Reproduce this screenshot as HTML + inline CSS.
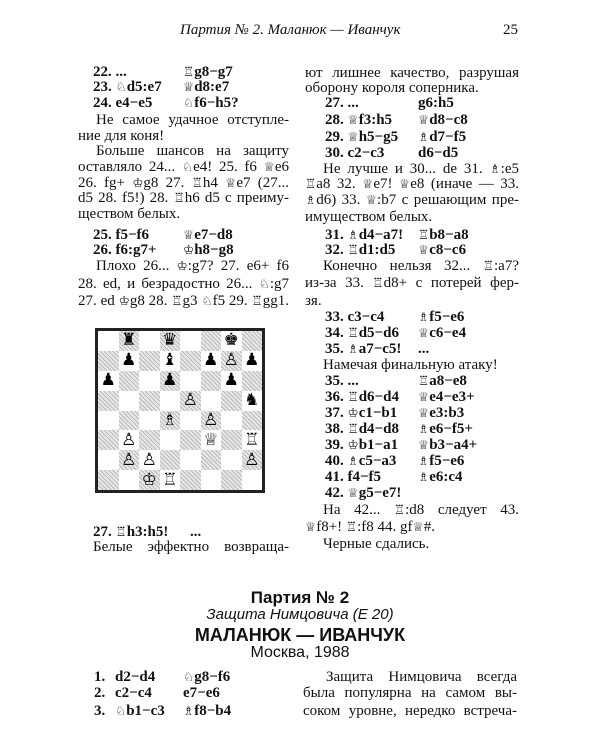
<!DOCTYPE html>
<html><head><meta charset="utf-8">
<style>
body{margin:0;background:#fff;}
#p{position:relative;width:600px;height:750px;overflow:hidden;background:#fff;color:#111;font-family:"Liberation Serif",serif;font-size:15px;}
.l{position:absolute;height:18px;line-height:18px;white-space:nowrap;}
.j{text-align:justify;text-align-last:justify;white-space:normal;overflow:hidden;}
.b{font-weight:bold;}
.f{font-family:"DejaVu Sans",sans-serif;font-weight:normal;font-size:12.5px;}
.s{font-family:"Liberation Sans",sans-serif;text-align:center;left:0;width:600px;}
#board{position:absolute;left:95px;top:328px;width:164px;height:159px;border:3px solid #222;display:grid;grid-template-columns:repeat(8,1fr);grid-template-rows:repeat(8,1fr);}
#board div{display:flex;align-items:center;justify-content:center;font-family:"DejaVu Sans",sans-serif;font-size:17px;line-height:1;color:#000;}
#board .d{background:repeating-linear-gradient(45deg,#bbb 0 1px,#e8e8e8 1px 3px);}
</style></head><body><div id="p">

<div class="l" style="left:180px;top:21px;font-style:italic;font-size:15px;">Партия № 2. Маланюк — Иванчук</div>
<div class="l" style="left:503px;top:21px;font-size:15px;">25</div>

<!-- left column -->
<div class="l b" style="left:93px;top:63px">22. ...</div><div class="l b" style="left:183px;top:63px"><span class="f">♖</span>g8−g7</div>
<div class="l b" style="left:93px;top:78px">23. <span class="f">♘</span>d5:e7</div><div class="l b" style="left:183px;top:78px"><span class="f">♕</span>d8:e7</div>
<div class="l b" style="left:93px;top:94px">24. e4−e5</div><div class="l b" style="left:183px;top:94px"><span class="f">♘</span>f6−h5?</div>
<div class="l j" style="left:96px;width:193px;top:111px">Не самое удачное отступле-</div>
<div class="l" style="left:78px;top:127px">ние для коня!</div>
<div class="l j" style="left:96px;width:193px;top:142px">Больше шансов на защиту</div>
<div class="l j" style="left:78px;width:211px;top:158px">оставляло 24... <span class="f">♘</span>e4! 25. f6 <span class="f">♕</span>e6</div>
<div class="l j" style="left:78px;width:211px;top:174px">26. fg+ <span class="f">♔</span>g8 27. <span class="f">♖</span>h4 <span class="f">♕</span>e7 (27...</div>
<div class="l j" style="left:78px;width:211px;top:189px">d5 28. f5!) 28. <span class="f">♖</span>h6 d5 с преиму-</div>
<div class="l" style="left:78px;top:205px">ществом белых.</div>
<div class="l b" style="left:93px;top:226px">25. f5−f6</div><div class="l b" style="left:183px;top:226px"><span class="f">♕</span>e7−d8</div>
<div class="l b" style="left:93px;top:241px">26. f6:g7+</div><div class="l b" style="left:183px;top:241px"><span class="f">♔</span>h8−g8</div>
<div class="l j" style="left:96px;width:193px;top:257px">Плохо 26... <span class="f">♔</span>:g7? 27. e6+ f6</div>
<div class="l j" style="left:78px;width:211px;top:275px">28. ed, и безрадостно 26... <span class="f">♘</span>:g7</div>
<div class="l j" style="left:78px;width:211px;top:292px">27. ed <span class="f">♔</span>g8 28. <span class="f">♖</span>g3 <span class="f">♘</span>f5 29. <span class="f">♖</span>gg1.</div>

<div id="board">
<div></div><div class="d">♜</div><div></div><div class="d">♛</div><div></div><div class="d"></div><div>♚</div><div class="d"></div>
<div class="d"></div><div>♟</div><div class="d"></div><div>♝</div><div class="d"></div><div>♟</div><div class="d">♙</div><div>♟</div>
<div>♟</div><div class="d"></div><div></div><div class="d">♟</div><div></div><div class="d"></div><div>♟</div><div class="d"></div>
<div class="d"></div><div></div><div class="d"></div><div></div><div class="d">♙</div><div></div><div class="d"></div><div>♞</div>
<div></div><div class="d"></div><div></div><div class="d">♗</div><div></div><div class="d">♙</div><div></div><div class="d"></div>
<div class="d"></div><div>♙</div><div class="d"></div><div></div><div class="d"></div><div>♕</div><div class="d"></div><div>♖</div>
<div></div><div class="d">♙</div><div>♙</div><div class="d"></div><div></div><div class="d"></div><div></div><div class="d">♙</div>
<div class="d"></div><div></div><div class="d">♔</div><div>♖</div><div class="d"></div><div></div><div class="d"></div><div></div>
</div>

<div class="l b" style="left:93px;top:523px">27. <span class="f">♖</span>h3:h5!</div><div class="l b" style="left:190px;top:523px">...</div>
<div class="l j" style="left:93px;width:196px;top:538px">Белые эффектно возвраща-</div>

<!-- right column -->
<div class="l j" style="left:305px;width:214px;top:64px">ют лишнее качество, разрушая</div>
<div class="l" style="left:305px;top:79px">оборону короля соперника.</div>
<div class="l b" style="left:325px;top:94px">27. ...</div><div class="l b" style="left:418px;top:94px">g6:h5</div>
<div class="l b" style="left:325px;top:111px">28. <span class="f">♕</span>f3:h5</div><div class="l b" style="left:418px;top:111px"><span class="f">♕</span>d8−c8</div>
<div class="l b" style="left:325px;top:128px">29. <span class="f">♕</span>h5−g5</div><div class="l b" style="left:418px;top:128px"><span class="f">♗</span>d7−f5</div>
<div class="l b" style="left:325px;top:144px">30. c2−c3</div><div class="l b" style="left:418px;top:144px">d6−d5</div>
<div class="l j" style="left:323px;width:196px;top:160px">Не лучше и 30... de 31. <span class="f">♗</span>:e5</div>
<div class="l j" style="left:305px;width:214px;top:175px"><span class="f">♖</span>a8 32. <span class="f">♕</span>e7! <span class="f">♕</span>e8 (иначе — 33.</div>
<div class="l j" style="left:305px;width:214px;top:191px"><span class="f">♗</span>d6) 33. <span class="f">♕</span>:b7 с решающим пре-</div>
<div class="l" style="left:305px;top:208px">имуществом белых.</div>
<div class="l b" style="left:325px;top:226px">31. <span class="f">♗</span>d4−a7!</div><div class="l b" style="left:418px;top:226px"><span class="f">♖</span>b8−a8</div>
<div class="l b" style="left:325px;top:241px">32. <span class="f">♖</span>d1:d5</div><div class="l b" style="left:418px;top:241px"><span class="f">♕</span>c8−c6</div>
<div class="l j" style="left:323px;width:196px;top:257px">Конечно нельзя 32... <span class="f">♖</span>:a7?</div>
<div class="l j" style="left:305px;width:214px;top:274px">из-за 33. <span class="f">♖</span>d8+ с потерей фер-</div>
<div class="l" style="left:305px;top:292px">зя.</div>
<div class="l b" style="left:325px;top:308px">33. c3−c4</div><div class="l b" style="left:418px;top:308px"><span class="f">♗</span>f5−e6</div>
<div class="l b" style="left:325px;top:324px">34. <span class="f">♖</span>d5−d6</div><div class="l b" style="left:418px;top:324px"><span class="f">♕</span>c6−e4</div>
<div class="l b" style="left:325px;top:340px">35. <span class="f">♗</span>a7−c5!</div><div class="l b" style="left:418px;top:340px">...</div>
<div class="l" style="left:323px;top:356px">Намечая финальную атаку!</div>
<div class="l b" style="left:325px;top:372px">35. ...</div><div class="l b" style="left:418px;top:372px"><span class="f">♖</span>a8−e8</div>
<div class="l b" style="left:325px;top:388px">36. <span class="f">♖</span>d6−d4</div><div class="l b" style="left:418px;top:388px"><span class="f">♕</span>e4−e3+</div>
<div class="l b" style="left:325px;top:404px">37. <span class="f">♔</span>c1−b1</div><div class="l b" style="left:418px;top:404px"><span class="f">♕</span>e3:b3</div>
<div class="l b" style="left:325px;top:420px">38. <span class="f">♖</span>d4−d8</div><div class="l b" style="left:418px;top:420px"><span class="f">♗</span>e6−f5+</div>
<div class="l b" style="left:325px;top:436px">39. <span class="f">♔</span>b1−a1</div><div class="l b" style="left:418px;top:436px"><span class="f">♕</span>b3−a4+</div>
<div class="l b" style="left:325px;top:452px">40. <span class="f">♗</span>c5−a3</div><div class="l b" style="left:418px;top:452px"><span class="f">♗</span>f5−e6</div>
<div class="l b" style="left:325px;top:468px">41. f4−f5</div><div class="l b" style="left:418px;top:468px"><span class="f">♗</span>e6:c4</div>
<div class="l b" style="left:325px;top:484px">42. <span class="f">♕</span>g5−e7!</div>
<div class="l j" style="left:323px;width:196px;top:501px">На 42... <span class="f">♖</span>:d8 следует 43.</div>
<div class="l" style="left:305px;top:518px"><span class="f">♕</span>f8+! <span class="f">♖</span>:f8 44. gf<span class="f">♕</span>#.</div>
<div class="l" style="left:323px;top:535px">Черные сдались.</div>

<!-- bottom -->
<div class="l s b" style="top:589px;font-size:17px;">Партия № 2</div>
<div class="l s" style="top:606px;font-size:15px;font-style:italic;">Защита Нимцовича (E 20)</div>
<div class="l s b" style="top:626px;font-size:18px;">МАЛАНЮК — ИВАНЧУК</div>
<div class="l s" style="top:644px;font-size:16px;">Москва, 1988</div>

<div class="l b" style="left:94px;top:668px">1.</div><div class="l b" style="left:115px;top:668px">d2−d4</div><div class="l b" style="left:183px;top:668px"><span class="f">♘</span>g8−f6</div>
<div class="l b" style="left:94px;top:684px">2.</div><div class="l b" style="left:115px;top:684px">c2−c4</div><div class="l b" style="left:183px;top:684px">e7−e6</div>
<div class="l b" style="left:94px;top:702px">3.</div><div class="l b" style="left:115px;top:702px"><span class="f">♘</span>b1−c3</div><div class="l b" style="left:183px;top:702px"><span class="f">♗</span>f8−b4</div>
<div class="l j" style="left:326px;width:191px;top:668px">Защита Нимцовича всегда</div>
<div class="l j" style="left:303px;width:214px;top:684px">была популярна на самом вы-</div>
<div class="l j" style="left:303px;width:214px;top:702px">соком уровне, нередко встреча-</div>

</div></body></html>
